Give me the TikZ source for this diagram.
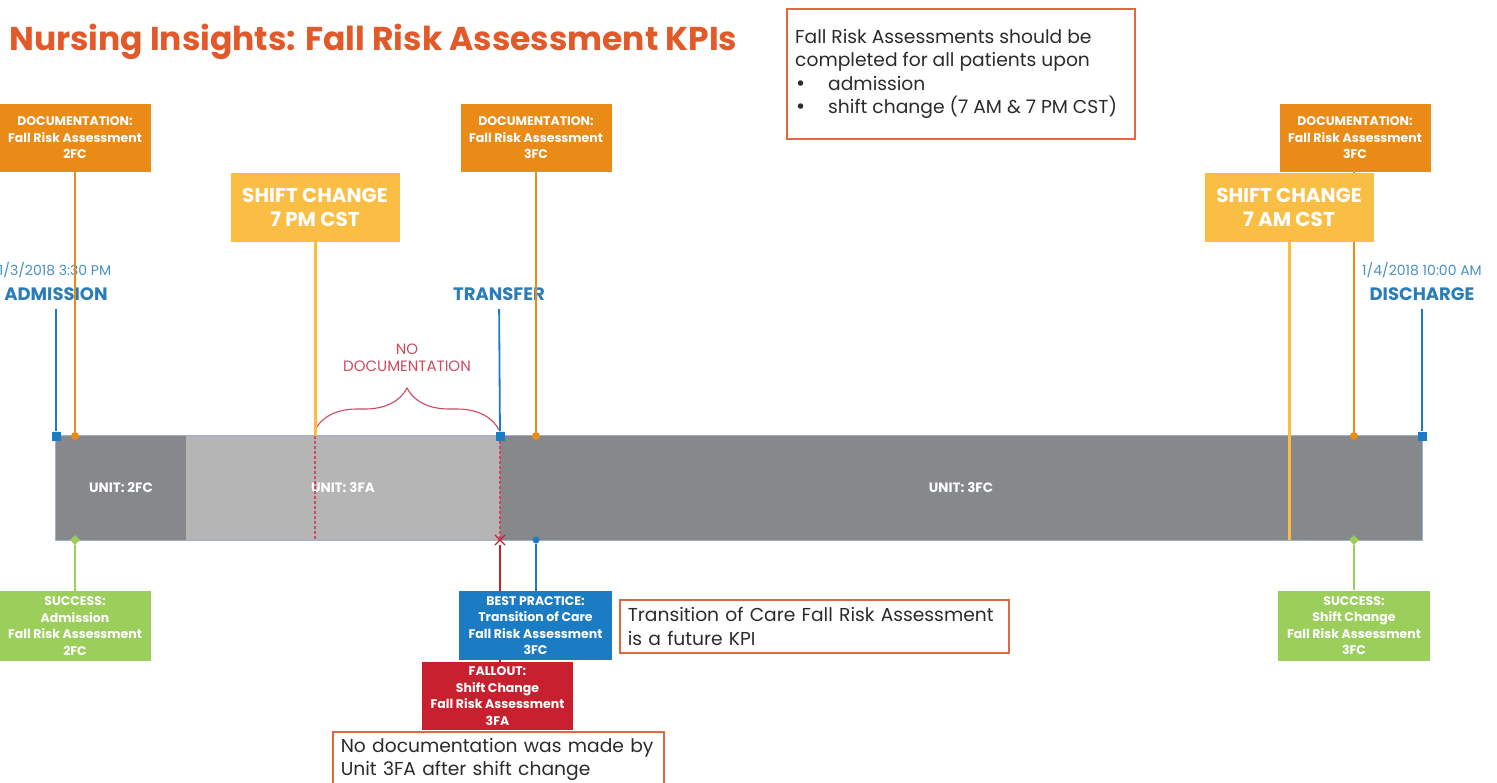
\documentclass[tikz,border=0pt]{standalone}
\usepackage{fontspec}
\setmainfont{Poppins}
\newfontfamily\bulletfont{DejaVu Sans}
\usetikzlibrary{decorations.pathreplacing,shapes.geometric,shapes.misc}

\definecolor{titleor}{HTML}{E2592A}
\definecolor{docor}{HTML}{EA8A17}
\definecolor{shiftyel}{HTML}{FBBE44}
\definecolor{kblue}{HTML}{1B7CC4}
\definecolor{lblue}{HTML}{2A7DB8}
\definecolor{kgreen}{HTML}{9CCE5C}
\definecolor{kred}{HTML}{C8202F}
\definecolor{notebd}{HTML}{E06840}
\definecolor{bandd}{HTML}{87888C}
\definecolor{bandl}{HTML}{B5B5B5}
\definecolor{bandedge}{HTML}{9AB0CC}
\definecolor{braced}{HTML}{D04A5E}
\definecolor{ntext}{HTML}{2B2B2B}

\newcommand{\bul}{\makebox[33pt][l]{\bulletfont\textbullet}}

\tikzset{
  box/.style={inner sep=0pt, align=center, text=white,
    font=\bfseries\fontsize{12.5}{16.5}\selectfont},
  docbox/.style={box, fill=docor, minimum width=151pt, minimum height=68pt},
  shiftbox/.style={box, fill=shiftyel, minimum width=169pt, minimum height=69pt,
    font=\bfseries\fontsize{20}{24}\selectfont},
  okbox/.style={box, fill=kgreen, minimum width=152pt, minimum height=70pt},
  bestbox/.style={box, fill=kblue, minimum width=153pt, minimum height=69pt},
  failbox/.style={box, fill=kred, minimum width=151pt, minimum height=68pt},
  unitseg/.style={inner sep=0pt, minimum height=104pt, text=white,
    font=\bfseries\fontsize{13.5}{16}\selectfont},
  notefont/.style={text=ntext, align=left, font=\fontsize{18.7}{23.3}\selectfont},
  notebox/.style={notefont, draw=notebd, line width=1.6pt, fill=white},
  evlbl/.style={text=lblue, font=\bfseries\fontsize{18}{21}\selectfont},
  datelbl/.style={text=lblue!85, font=\fontsize{14}{16}\selectfont},
  docline/.style={draw=docor, line width=1.8pt},
  shiftline/.style={draw=shiftyel, line width=3pt},
  blueline/.style={draw=kblue, line width=1.8pt},
  greenline/.style={draw=kgreen, line width=1.8pt},
  redline/.style={draw=kred, line width=1.4pt},
  gapline/.style={draw=braced, line width=1.2pt, dash pattern=on 3pt off 2pt},
  odot/.style={circle, fill=docor, inner sep=0pt, minimum size=8pt},
  bsq/.style={rectangle, fill=kblue, inner sep=0pt, minimum size=9pt},
  gdia/.style={diamond, fill=kgreen, inner sep=0pt, minimum size=10pt},
  xmk/.style={cross out, draw=kred, line width=1.2pt, inner sep=0pt, minimum size=9pt},
}

\begin{document}
\begin{tikzpicture}[x=1pt,y=-1pt]
\useasboundingbox (0,0) rectangle (1497,782);
\fill[white] (0,0) rectangle (1497,782);

% title
\node[anchor=west, text=titleor, font=\bfseries\fontsize{33}{38}\selectfont, inner sep=0pt]
  (title) at (9,42) {Nursing Insights: Fall Risk Assessment KPIs};

% assessment rule
\node[notebox, anchor=north west, minimum width=348pt, minimum height=130pt,
      inner sep=0pt] (rule) at (786,8) {};
\node[notefont, anchor=west, inner sep=0pt] (ruletext) at ([xshift=9pt]rule.west)
  {Fall Risk Assessments should be\\completed for all patients upon\\
   \bul admission\\
   \bul shift change (7 AM \& 7 PM CST)};

% stay timeline band
\node[unitseg, fill=bandd, minimum width=130pt] (u2fc) at (121,488) {UNIT: 2FC};
\node[unitseg, fill=bandl, minimum width=314pt] (u3fa) at (343,488) {UNIT: 3FA};
\node[unitseg, fill=bandd, minimum width=922pt] (u3fc) at (961,488) {UNIT: 3FC};
\draw[bandedge, line width=0.9pt] (u2fc.north west) rectangle (u3fc.south east);

% event markers on the band
\coordinate (s1top) at (315,436);
\coordinate (s1bot) at (315,540);
\coordinate (trbot) at (500,540);
\draw[gapline] (s1top) -- (s1bot);
\draw[gapline] (500,436) -- (trbot);

% event labels
\node[datelbl] (dadm) at (55,270) {1/3/2018 3:30 PM};
\node[evlbl] (ladm) at (56,294) {ADMISSION};
\node[evlbl] (ltr) at (499,294) {TRANSFER};
\node[datelbl] (ddis) at (1422,270) {1/4/2018 10:00 AM};
\node[evlbl] (ldis) at (1422,294) {DISCHARGE};

% gap without documentation
\draw[braced, line width=1.1pt, decorate,
      decoration={brace, amplitude=42pt, aspect=0.5}] (315,430) -- (499,430);
\node[text=braced, align=center, font=\fontsize{15}{16.5}\selectfont] (nodoc)
  at (407,358) {NO\\DOCUMENTATION};

% markers
\node[bsq] (madm) at (56,436) {};
\node[bsq] (mtr) at (500,436) {};
\node[bsq] (mdis) at (1422,436) {};
\node[odot] (md1) at (75,436) {};
\node[odot] (md2) at (536,436) {};
\node[odot] (md3) at (1354,436) {};
\node[gdia] (mg1) at (75,540) {};
\node[gdia] (mg2) at (1354,540) {};
\node[circle, fill=kblue, inner sep=0pt, minimum size=7pt] (mbp) at (536,540) {};
\node[xmk] (mx) at (trbot) {};

% blue event ticks
\draw[blueline, shorten <=5pt] (ladm) -- (madm);
\draw[blueline, shorten <=5pt] (ltr) -- (mtr);
\draw[blueline, shorten <=5pt] (ldis) -- (mdis);

% documentation boxes
\node[docbox] (doc1) at (75,138) {DOCUMENTATION:\\Fall Risk Assessment\\2FC};
\node[docbox] (doc2) at (536,138) {DOCUMENTATION:\\Fall Risk Assessment\\3FC};
\node[docbox] (doc3) at (1355,138) {DOCUMENTATION:\\Fall Risk Assessment\\3FC};
\draw[docline] (doc1) -- (md1);
\draw[docline] (doc2) -- (md2);
\draw[docline] (doc3.south -| md3) -- (md3);

% shift change boxes
\node[shiftbox] (sh1) at (315,207.5) {SHIFT CHANGE\\7 PM CST};
\node[shiftbox] (sh2) at (1289,207.5) {SHIFT CHANGE\\7 AM CST};
\coordinate (s2bot) at (1289,540);
\draw[shiftline] (sh1) -- (s1top);
\draw[shiftline] (sh2) -- (s2bot);

% outcome boxes
\node[okbox] (ok1) at (75,626) {SUCCESS:\\Admission\\Fall Risk Assessment\\2FC};
\node[okbox] (ok2) at (1354,625.5) {SUCCESS:\\Shift Change\\Fall Risk Assessment\\3FC};
\draw[greenline] (mg1) -- (ok1);
\draw[greenline] (mg2) -- (ok2);

\node[failbox] (fail) at (497.5,696) {FALLOUT:\\Shift Change\\Fall Risk Assessment\\3FA};
\draw[redline] (mx) -- (mx |- fail.north);
\draw[blueline] (mbp) -- (mbp |- 0,591);
\node[bestbox] (best) at (535.5,625.5) {BEST PRACTICE:\\Transition of Care\\Fall Risk Assessment\\3FC};

% explanatory notes
\node[notebox, anchor=north west, minimum width=389pt, minimum height=53pt,
      text width=373pt, inner xsep=8pt] (kpi) at (619,599)
  {Transition of Care Fall Risk Assessment\\is a future KPI};
\node[notebox, anchor=north west, text width=315pt, inner xsep=8pt, inner ysep=6pt]
  (why) at (332,731)
  {No documentation was made by\\Unit 3FA after shift change};
\end{tikzpicture}
\end{document}
